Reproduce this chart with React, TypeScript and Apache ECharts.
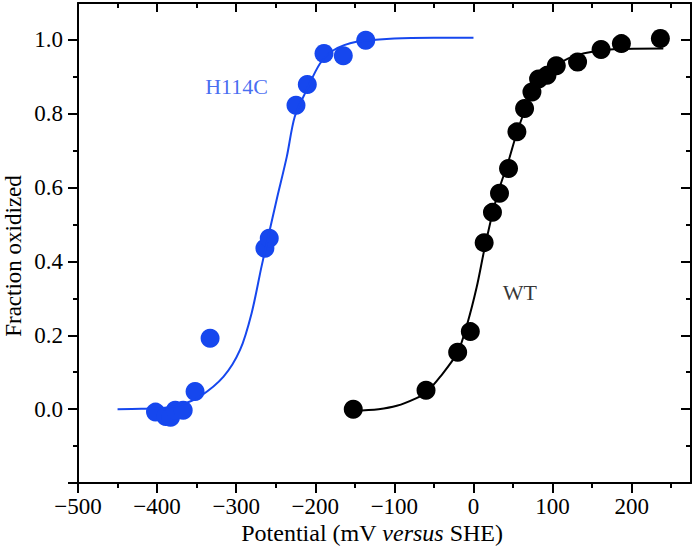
import React, { useEffect, useRef } from "react";
import * as echarts from "echarts";

// Axis ticks
const xMajorTicks = [-500, -400, -300, -200, -100, 0, 100, 200];
const xMinorTicks = [-450, -350, -250, -150, -50, 50, 150, 250];
const yMajorTicks = [-0.2, 0, 0.2, 0.4, 0.6, 0.8, 1.0];
const yLabelTicks = [0, 0.2, 0.4, 0.6, 0.8, 1.0];
const yMinorTicks = [-0.1, 0.1, 0.3, 0.5, 0.7, 0.9];

// H114C measured points
const h114cX = [-402, -389, -383, -377, -367, -352, -333, -263.7, -258.2, -224.4, -210.1, -189, -164.6, -136.2];
const h114cY = [-0.008, -0.02, -0.022, -0.003, -0.003, 0.048, 0.192, 0.436, 0.463, 0.823, 0.879, 0.963, 0.957, 0.999];

// WT measured points
const wtX = [-152, -60, -20, -4, 13.5, 24, 32.9, 44.3, 54.9, 64.6, 73.9, 82.3, 92.9, 104.7, 131.6, 161.3, 187, 236.3];
const wtY = [0.0, 0.051, 0.154, 0.21, 0.451, 0.533, 0.585, 0.652, 0.751, 0.814, 0.859, 0.894, 0.904, 0.93, 0.94, 0.974, 0.99, 1.004];

// Fitted curves
const fitBlueX = [-450, -420, -390, -370, -346, -316, -295, -280.5, -268, -259.5, -249, -236, -226, -211, -194, -177, -148, -100, -50, 0];
const fitBlueY = [0.0, 0.001, 0.004, 0.012, 0.034, 0.088, 0.161, 0.26, 0.386, 0.467, 0.566, 0.684, 0.792, 0.864, 0.936, 0.972, 0.995, 1.004, 1.006, 1.006];

const fitBlackX = [-152, -120, -97, -72, -60, -42, -20, -8, 4, 13.5, 24, 33, 44, 55, 65, 74, 85, 100, 120, 140, 177, 240];
const fitBlackY = [-0.004, 0.0, 0.009, 0.03, 0.045, 0.088, 0.154, 0.23, 0.33, 0.43, 0.53, 0.6, 0.67, 0.75, 0.81, 0.86, 0.895, 0.925, 0.95, 0.964, 0.975, 0.977];

// Annotations
const labelNames = ["H114C", "WT"];
const labelX = [-299.5, 58.7];
const labelY = [0.875, 0.316];

const BLUE = "#1647ee";
const FONT = "Liberation Serif";
const FS = 23;

const zip = (xs: number[], ys: number[]) => xs.map((x, i) => [x, ys[i]]);
const fmtX = (v: number) => (v < 0 ? "\u2212" + Math.abs(v) : String(v));

export default function App() {
  const ref = useRef<HTMLDivElement>(null);
  useEffect(() => {
    if (!ref.current) return;
    const chart = echarts.init(ref.current, null, { renderer: "svg" });
    const gridRect = { left: 78, right: 1, top: 3, bottom: 66 };
    const lineStyle = { color: "#000", width: 2 };
    const xBase = { type: "value", min: -500, max: 275, splitLine: { show: false } };
    const yBase = { type: "value", min: -0.2, max: 1.1, splitLine: { show: false } };
    chart.setOption({
      animation: false,
      textStyle: { fontFamily: FONT },
      grid: [{ ...gridRect }, { ...gridRect }],
      xAxis: [
        {
          ...xBase, gridIndex: 0, position: "bottom",
          axisLine: { show: true, onZero: false, lineStyle },
          axisTick: { show: true, inside: false, length: 10, lineStyle, customValues: xMajorTicks },
          axisLabel: { customValues: xMajorTicks, formatter: fmtX, fontFamily: FONT, fontSize: FS, color: "#000", margin: 12 },
        },
        {
          ...xBase, gridIndex: 0, position: "top",
          axisLine: { show: true, onZero: false, lineStyle },
          axisTick: { show: true, inside: true, length: 9, lineStyle, customValues: xMajorTicks },
          axisLabel: { show: false },
        },
        {
          ...xBase, gridIndex: 1, position: "bottom",
          axisLine: { show: false, onZero: false },
          axisTick: { show: true, inside: false, length: 5, lineStyle, customValues: xMinorTicks },
          axisLabel: { show: false },
        },
        {
          ...xBase, gridIndex: 1, position: "top",
          axisLine: { show: false, onZero: false },
          axisTick: { show: true, inside: true, length: 5, lineStyle, customValues: xMinorTicks },
          axisLabel: { show: false },
        },
      ],
      yAxis: [
        {
          ...yBase, gridIndex: 0, position: "left",
          axisLine: { show: true, onZero: false, lineStyle },
          axisTick: { show: true, inside: false, length: 10, lineStyle, customValues: yMajorTicks },
          axisLabel: { customValues: yLabelTicks, formatter: (v: number) => v.toFixed(1), fontFamily: FONT, fontSize: FS, color: "#000", margin: 15 },
        },
        {
          ...yBase, gridIndex: 0, position: "right",
          axisLine: { show: true, onZero: false, lineStyle },
          axisTick: { show: true, inside: true, length: 10, lineStyle, customValues: yMajorTicks },
          axisLabel: { show: false },
        },
        {
          ...yBase, gridIndex: 1, position: "left",
          axisLine: { show: false, onZero: false },
          axisTick: { show: true, inside: false, length: 5, lineStyle, customValues: yMinorTicks },
          axisLabel: { show: false },
        },
        {
          ...yBase, gridIndex: 1, position: "right",
          axisLine: { show: false, onZero: false },
          axisTick: { show: true, inside: true, length: 5, lineStyle, customValues: yMinorTicks },
          axisLabel: { show: false },
        },
      ],
      series: [
        {
          type: "line", xAxisIndex: 0, yAxisIndex: 0, data: zip(fitBlueX, fitBlueY),
          showSymbol: false, smooth: 0.3, lineStyle: { color: BLUE, width: 2 }, silent: true,
        },
        {
          type: "line", xAxisIndex: 0, yAxisIndex: 0, data: zip(fitBlackX, fitBlackY),
          showSymbol: false, smooth: 0.3, lineStyle: { color: "#000", width: 2 }, silent: true,
        },
        {
          type: "scatter", xAxisIndex: 0, yAxisIndex: 0, data: zip(h114cX, h114cY),
          symbolSize: 19, itemStyle: { color: BLUE, opacity: 1 },
        },
        {
          type: "scatter", xAxisIndex: 0, yAxisIndex: 0, data: zip(wtX, wtY),
          symbolSize: 19, itemStyle: { color: "#000", opacity: 1 },
        },
        {
          type: "scatter", xAxisIndex: 0, yAxisIndex: 0,
          data: labelNames.map((n, i) => ({
            value: [labelX[i], labelY[i]], name: n,
            label: { color: i === 0 ? BLUE : "#000" },
          })),
          symbolSize: 0,
          label: {
            show: true, position: "inside", formatter: (p: any) => p.name,
            fontFamily: FONT, fontSize: 22,
          },
          itemStyle: { color: "transparent" },
        },
      ],
      graphic: [
        {
          type: "text", x: 372, y: 533,
          style: {
            text: "Potential (mV {i|versus} SHE)",
            fontFamily: FONT, fontSize: 24, fill: "#000",
            align: "center", verticalAlign: "middle",
            rich: { i: { fontStyle: "italic", fontFamily: FONT, fontSize: 24, fill: "#000" } },
          },
        },
        {
          type: "text", x: 13, y: 256, rotation: Math.PI / 2,
          style: {
            text: "Fraction oxidized", fontFamily: FONT, fontSize: FS, fill: "#000",
            align: "center", verticalAlign: "middle",
          },
        },
      ],
    });
    return () => chart.dispose();
  }, []);
  return (
    <div
      ref={ref}
      style={{ position: "absolute", left: 0, top: 0, width: 692, height: 549, background: "#fff" }}
    />
  );
}
